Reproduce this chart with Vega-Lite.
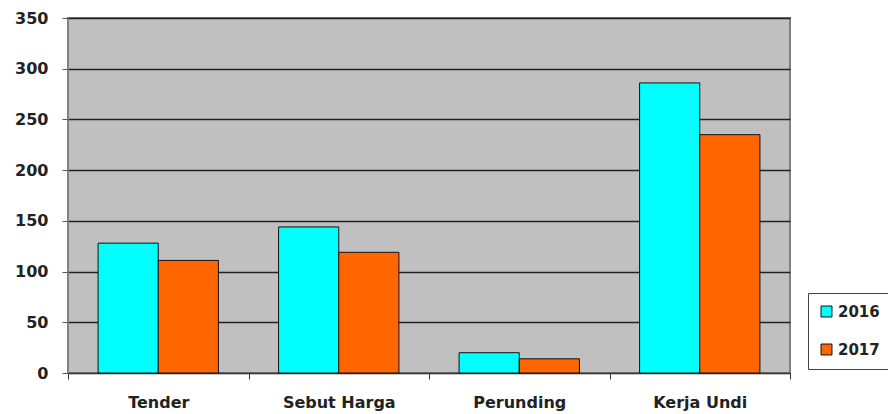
{
  "$schema": "https://vega.github.io/schema/vega-lite/v6.json",
  "width": 722,
  "height": 355,
  "autosize": {"type": "none"},
  "padding": {"left": 68, "top": 18, "right": 98, "bottom": 41},
  "background": "white",
  "config": {
    "view": {"fill": "#c0c0c0", "stroke": "#808080", "strokeWidth": 2},
    "font": "DejaVu Sans"
  },
  "data": {
    "values": [
      {"kategori": "Tender", "tahun": "2016", "nilai": 128},
      {"kategori": "Tender", "tahun": "2017", "nilai": 111},
      {"kategori": "Sebut Harga", "tahun": "2016", "nilai": 144},
      {"kategori": "Sebut Harga", "tahun": "2017", "nilai": 119},
      {"kategori": "Perunding", "tahun": "2016", "nilai": 20},
      {"kategori": "Perunding", "tahun": "2017", "nilai": 14},
      {"kategori": "Kerja Undi", "tahun": "2016", "nilai": 286},
      {"kategori": "Kerja Undi", "tahun": "2017", "nilai": 235}
    ]
  },
  "mark": {"type": "bar", "stroke": "#111111", "strokeWidth": 1},
  "encoding": {
    "x": {
      "field": "kategori",
      "type": "nominal",
      "sort": ["Tender", "Sebut Harga", "Perunding", "Kerja Undi"],
      "scale": {"paddingInner": 0, "paddingOuter": 0},
      "axis": {
        "title": null,
        "labelAngle": 0,
        "tickBand": "extent",
        "tickSize": 6,
        "tickColor": "#333333",
        "domainColor": "#333333",
        "labelFont": "DejaVu Sans",
        "labelFontWeight": "bold",
        "labelFontSize": 16,
        "labelColor": "#222222",
        "labelPadding": 15
      }
    },
    "xOffset": {
      "field": "tahun",
      "type": "nominal",
      "scale": {"paddingInner": 0, "paddingOuter": 0.5}
    },
    "y": {
      "field": "nilai",
      "type": "quantitative",
      "scale": {"domain": [0, 350], "nice": false},
      "axis": {
        "title": null,
        "values": [0, 50, 100, 150, 200, 250, 300, 350],
        "grid": true,
        "gridColor": "#222222",
        "gridWidth": 1.5,
        "gridOpacity": 1,
        "tickSize": 6,
        "tickColor": "#555555",
        "domainColor": "#808080",
        "labelFont": "DejaVu Sans",
        "labelFontWeight": "bold",
        "labelFontSize": 16,
        "labelColor": "#222222",
        "labelPadding": 14
      }
    },
    "color": {
      "field": "tahun",
      "type": "nominal",
      "scale": {"domain": ["2016", "2017"], "range": ["#00ffff", "#ff6600"]},
      "legend": {
        "title": null,
        "orient": "none",
        "legendX": 740,
        "legendY": 275,
        "symbolType": "square",
        "symbolSize": 120,
        "symbolStrokeColor": "#111111",
        "symbolStrokeWidth": 1,
        "labelFont": "DejaVu Sans",
        "labelFontWeight": "bold",
        "labelFontSize": 15,
        "labelColor": "#222222",
        "labelOffset": 4,
        "strokeColor": "#444444",
        "padding": 11,
        "rowPadding": 22,
        "fillColor": "white"
      }
    }
  }
}
